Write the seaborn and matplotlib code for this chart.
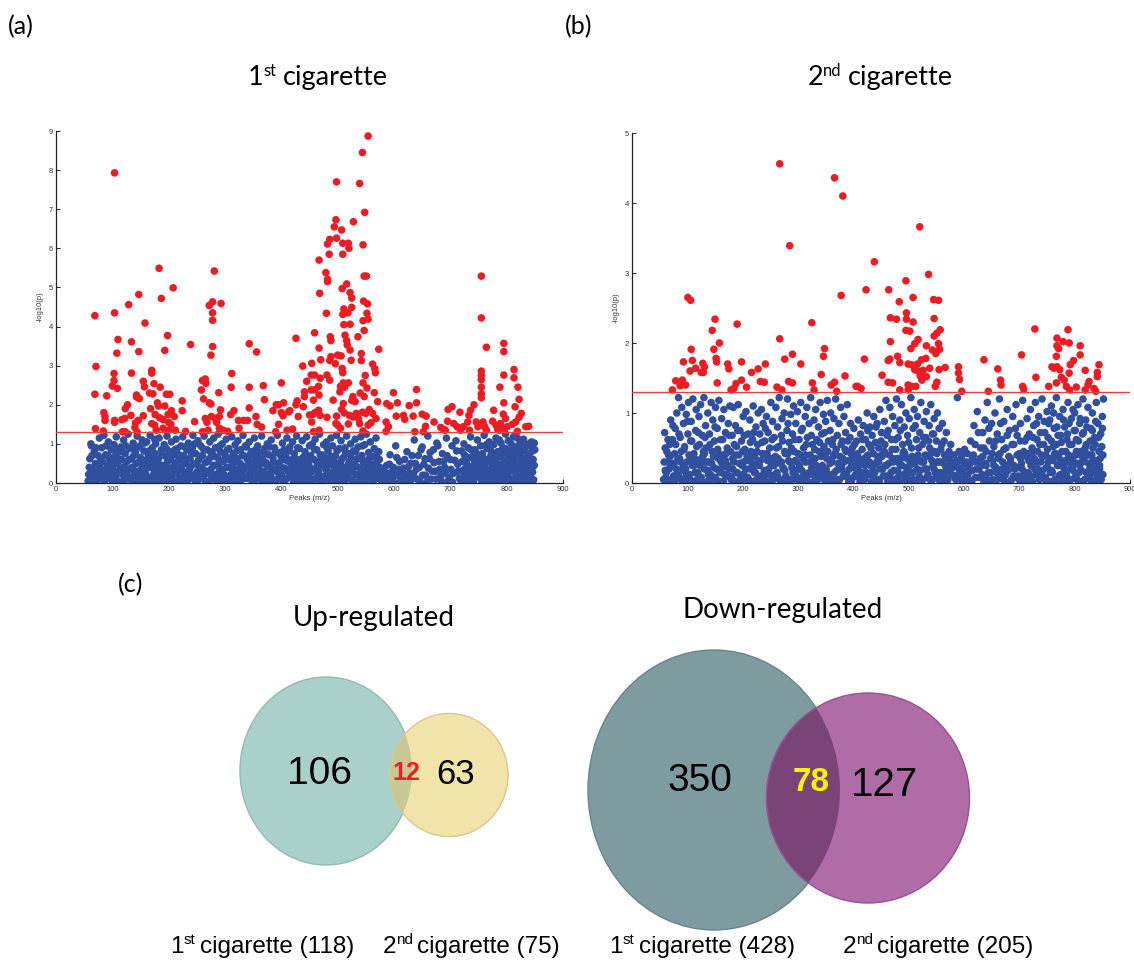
import matplotlib
matplotlib.use("Agg")
import matplotlib.pyplot as plt
from matplotlib.patches import Ellipse
from matplotlib.transforms import IdentityTransform
import seaborn as sns
import pandas as pd

# ---------------- data ----------------
THRESH = 1.3
xticks = [0, 100, 200, 300, 400, 500, 600, 700, 800, 900]
yticks_a = list(range(0, 10))
yticks_b = list(range(0, 6))

red_a = [(104,7.93),(69,4.28),(71,2.98),(69,2.27),(70,1.39),(104,4.35),(110,3.67),(108,3.32),(103,2.80),(103,2.62),
 (100,2.48),(109,2.42),(104,1.60),(104,1.55),(90,2.23),(85,1.80),(87,1.70),(87,1.60),(84,1.33),
 (129,4.56),(147,4.82),(187,4.72),(183,5.49),(208,4.99),(158,4.09),(134,3.61),(147,3.36),(198,3.77),(193,3.39),
 (239,3.54),(170,2.88),(170,2.81),(155,2.60),(157,2.46),(134,2.81),(143,2.25),(143,2.20),(148,2.16),(174,2.54),
 (185,2.45),(166,2.30),(172,2.28),(196,2.27),(202,2.27),(127,2.00),(123,1.90),(117,1.62),(122,1.65),(133,1.73),
 (141,1.53),(146,1.60),(140,1.42),(155,1.72),(168,1.90),(176,1.75),(184,1.67),(190,1.62),(199,1.75),(205,1.85),
 (210,1.70),(200,1.55),(204,1.50),(224,2.10),(224,1.85),(180,2.05),(182,1.97),(193,1.97),(118,1.31),(123,1.31),
 (144,1.31),(178,1.35),(190,1.40),(200,1.35),(212,1.35),(230,1.32),(246,1.57),(170,1.52),(175,1.48),
 (281,5.42),(272,4.54),(278,4.63),(278,4.35),(278,4.16),(293,4.59),(278,3.49),(275,3.27),(260,2.62),(265,2.66),
 (258,2.38),(266,2.55),(272,2.05),(275,2.02),(262,2.15),(289,2.31),(292,1.87),(265,1.65),(268,1.55),(276,1.70),
 (283,1.65),(290,1.70),(285,1.55),(260,1.31),(270,1.35),(290,1.40),(297,1.35),(305,1.32),
 (312,2.80),(311,2.45),(316,1.85),(310,1.75),(324,1.60),(333,1.60),(340,1.60),(325,1.40),(343,3.56),(356,3.35),
 (343,2.45),(343,1.92),(355,1.70),(368,2.49),(370,2.13),(357,1.50),(365,1.43),(400,2.56),(385,1.85),(395,2.00),
 (404,2.05),(400,1.80),(403,1.72),(395,1.50),(390,1.31),(410,1.35),(415,1.85),(426,3.70),(428,2.10),(430,1.70),
 (420,1.38),(438,2.99),(454,3.06),(453,2.76),(445,2.60),(453,2.38),(441,2.33),(441,2.21),(439,1.95),(460,1.80),
 (450,1.74),(426,2.00),(413,1.82),(391,2.00),
 (554,8.87),(544,8.45),(539,7.66),(498,7.70),(548,6.92),(528,6.68),(497,6.73),(494,6.55),(507,6.47),(486,6.23),
 (482,6.11),(498,6.26),(509,6.13),(519,6.13),(520,6.00),(509,5.85),(485,5.85),(545,6.09),(467,5.70),(479,5.38),
 (482,5.15),(482,5.21),(468,4.85),(547,5.29),(551,5.29),(508,4.97),(516,5.09),(522,4.87),(525,4.73),(511,4.45),
 (509,4.31),(511,4.05),(518,4.35),(525,4.49),(522,4.06),(546,4.65),(553,4.58),(552,4.34),(554,4.19),(545,4.15),
 (547,3.90),(480,4.34),(459,3.84),(536,3.74),(513,3.78),(487,3.74),(488,3.64),(467,3.45),(573,3.42),(516,3.64),
 (517,3.53),(522,3.40),(524,3.14),(500,3.27),(506,3.25),(488,3.23),(486,3.13),(542,3.31),(542,3.13),(470,3.15),
 (496,3.05),(562,3.04),(566,2.92),(567,2.82),(508,2.93),(509,2.82),(510,2.56),(519,2.56),(512,2.45),(505,2.47),
 (549,2.75),(545,2.56),(552,2.43),(540,2.30),(547,2.21),(459,2.76),(481,2.76),(469,2.68),(486,2.63),(466,2.47),
 (467,2.25),(459,2.38),(504,2.33),(527,2.21),(531,2.08),(525,2.11),(565,2.31),(571,2.08),(599,2.31),(606,2.05),
 (587,2.03),(593,1.97),(640,2.39),(640,2.05),(627,1.98),(492,2.12),(510,2.03),(507,1.88),(512,1.79),(466,1.86),
 (469,1.73),(457,1.76),(481,1.68),(498,1.71),(521,1.73),(527,1.69),(533,1.78),(537,1.65),(544,1.81),(550,1.78),
 (556,1.88),(562,1.78),(568,1.65),(559,1.54),(554,1.48),(539,1.52),(545,1.33),(519,1.51),(500,1.48),(505,1.40),
 (497,1.52),(604,1.71),(617,1.73),(619,1.63),(586,1.56),(590,1.44),(586,1.32),(634,1.71),(637,1.31),(650,1.76),
 (657,1.71),(656,1.45),(652,1.31),(671,1.56),(683,1.42),(688,1.37),(696,1.88),(703,1.95),(695,1.58),(691,1.35),
 (706,1.52),(712,1.44),(717,1.81),(718,1.35),(723,1.44),(733,1.73),(736,1.86),(731,1.56),(734,1.35),(742,2.00),
 (746,1.56),(749,1.44),(755,5.29),(755,4.22),(764,3.47),(755,2.86),(755,2.75),(755,2.64),(755,2.45),(755,2.28),
 (755,2.18),(758,1.56),(761,1.44),(764,1.35),(777,1.86),(775,1.58),(781,1.48),(784,1.38),(788,2.45),(795,3.57),
 (795,3.36),(795,2.76),(795,2.05),(794,1.76),(798,1.65),(789,1.52),(792,1.40),(795,1.33),(801,1.44),(786,1.35),
 (813,2.90),(813,2.69),(820,2.45),(822,2.14),(815,1.95),(826,1.78),(822,1.68),(816,1.56),(810,1.50),(834,1.44),
 (839,1.45),(819,1.32),(457,2.12),(454,1.56),(467,1.35),(457,1.31)]

blue_a = [(57,0.05),(58,0.22),(60,0.62),(62,1.0),(63,0.95),(65,0.35),(66,0.12),(68,0.8),(70,0.5),(72,0.02),(73,0.28),
 (75,0.7),(77,1.15),(78,0.4),(79,0.15),(81,0.9),(82,0.55),(84,0.08),(85,1.22),(86,0.3),(88,0.72),(90,0.18),(91,0.45),
 (93,1.05),(95,0.6),(96,0.25),(98,0.85),(100,0.05),(101,0.38),(103,0.98),(104,0.68),(106,0.15),(107,1.18),(109,0.5),
 (110,0.8),(112,0.3),(113,0.02),(115,0.92),(116,0.6),(118,0.22),(120,1.1),(121,0.42),(123,0.75),(125,0.1),(126,0.55),
 (128,1.25),(129,0.33),(131,0.88),(132,0.12),(134,0.62),(136,0.4),(137,1.02),(139,0.2),(141,0.78),(142,0.5),(144,1.2),
 (145,0.05),(147,0.3),(149,0.95),(150,0.65),(152,0.18),(153,1.1),(154,0.45),(156,0.82),(158,0.28),(159,0.58),(161,1.05),
 (163,0.1),(164,0.7),(166,0.4),(167,1.22),(169,0.15),(171,0.9),(172,0.52),(174,0.25),(176,0.75),(177,1.0),(179,0.05),
 (180,0.35),(182,0.62),(183,1.15),(185,0.2),(187,0.85),(188,0.45),(190,0.08),(192,0.98),(193,0.3),(195,0.68),(197,1.2),
 (198,0.55),(200,0.15),(202,0.8),(203,0.38),(205,1.05),(207,0.25),(208,0.72),(210,0.02),(212,0.5),(213,1.12),(215,0.88),
 (217,0.3),(218,0.6),(220,0.12),(222,0.95),(223,0.42),(225,1.18),(227,0.7),(228,0.2),(230,0.5),(232,0.85),(233,0.08),
 (235,1.02),(237,0.35),(238,0.62),(240,0.18),(242,0.9),(243,1.22),(245,0.48),(247,0.05),(248,0.75),(250,0.28),(252,1.08),
 (253,0.58),(255,0.15),(257,0.95),(258,0.4),(260,0.7),(262,0.1),(263,1.2),(265,0.52),(267,0.25),(268,0.85),(270,0.02),
 (272,0.62),(273,1.05),(275,0.35),(277,0.78),(278,0.18),(280,1.15),(282,0.45),(283,0.9),(285,0.08),(287,0.65),(288,1.25),
 (290,0.3),(292,0.8),(293,0.15),(295,1.0),(297,0.55),(298,0.22),(300,0.72),(302,1.12),(303,0.4),(305,0.05),(307,0.88),
 (308,0.6),(310,0.2),(312,1.18),(313,0.45),(315,0.75),(317,0.1),(318,0.98),(320,0.32),(322,0.62),(323,1.08),(325,0.02),
 (327,0.5),(328,0.85),(330,0.25),(332,1.22),(333,0.7),(335,0.12),(337,0.42),(338,0.92),(340,0.6),(342,0.2),(343,1.05),
 (345,0.35),(347,0.8),(348,0.05),(350,0.55),(352,1.15),(353,0.28),(355,0.68),(357,0.1),(358,0.95),(360,0.45),(362,0.78),
 (363,0.18),(365,1.2),(367,0.6),(368,0.3),(370,0.88),(372,0.02),(373,0.52),(375,1.0),(377,0.22),(378,0.72),(380,0.4),
 (382,1.1),(383,0.12),(385,0.65),(387,0.35),(388,0.9),(390,0.05),(392,0.5),(393,1.22),(395,0.25),(397,0.78),(398,0.15),
 (400,0.58),(402,1.02),(403,0.38),(405,0.85),(407,0.08),(408,0.68),(410,1.15),(412,0.3),(413,0.55),(415,0.92),(417,0.18),
 (418,0.45),(420,1.05),(422,0.02),(423,0.75),(425,0.35),(427,1.2),(428,0.6),(430,0.12),(432,0.88),(433,0.42),(435,0.22),
 (437,1.08),(438,0.65),(440,0.05),(442,0.8),(443,0.32),(445,1.18),(447,0.52),(448,0.15),(450,0.95),(452,0.7),(453,0.28),
 (455,1.0),(457,0.1),(458,0.6),(460,1.12),(462,0.38),(463,0.85),(465,0.2),(467,0.55),(468,1.25),(470,0.02),(472,0.72),
 (473,0.45),(475,0.98),(477,0.18),(478,0.65),(480,1.05),(482,0.3),(483,0.82),(485,0.08),(487,0.58),(488,1.15),(490,0.25),
 (491,0.95),(493,0.42),(495,0.12),(496,0.7),(498,1.22),(500,0.35),(501,0.05),(503,0.88),(505,0.5),(506,1.08),(508,0.2),
 (510,0.65),(511,0.02),(513,0.9),(515,0.4),(516,1.2),(518,0.15),(520,0.75),(521,0.55),(523,1.0),(525,0.28),(526,0.08),
 (528,0.82),(530,0.48),(531,1.12),(533,0.22),(535,0.62),(536,0.92),(538,0.05),(540,0.38),(541,1.18),(543,0.7),(545,0.15),
 (546,0.52),(548,0.98),(550,0.3),(551,1.25),(553,0.1),(555,0.78),(557,0.45),(558,1.05),(560,0.2),(562,0.68),(563,0.02),
 (565,0.88),(567,0.35),(568,1.15),(570,0.55),(571,0.12),(573,0.8),(575,0.4),(576,0.25),(578,0.05),(583,0.15),(587,0.45),
 (590,0.08),(593,0.72),(597,0.3),(600,0.02),(603,0.95),(607,0.2),(610,0.55),(613,0.1),(617,0.38),(620,0.05),(623,0.8),
 (627,0.25),(630,0.5),(633,0.12),(636,1.1),(640,0.35),(643,0.7),(646,0.05),(650,0.92),(653,0.48),(656,0.2),(660,1.2),
 (663,0.62),(666,0.1),(670,0.85),(673,0.3),(676,1.02),(680,0.55),(683,0.18),(686,0.75),(690,0.4),(693,1.15),(696,0.05),
 (700,0.6),(703,0.95),(706,0.25),(710,1.08),(713,0.48),(716,0.12),(720,0.82),(722,0.32),(724,1.0),(726,0.05),(728,0.58),
 (730,0.2),(732,0.9),(734,0.42),(736,1.18),(738,0.1),(740,0.68),(742,0.28),(744,0.85),(746,0.5),(748,1.1),(750,0.15),
 (751,0.62),(753,0.35),(754,0.95),(756,0.02),(757,0.75),(759,0.22),(760,1.22),(762,0.48),(763,0.12),(765,0.88),(766,0.6),
 (768,0.3),(769,1.05),(771,0.08),(772,0.7),(774,0.4),(775,0.18),(777,0.98),(778,0.55),(780,0.25),(781,1.15),(783,0.05),
 (784,0.8),(786,0.45),(787,0.15),(789,0.68),(790,1.02),(792,0.32),(793,0.9),(795,0.1),(796,0.58),(798,1.25),(799,0.38),
 (800,0.75),(802,0.2),(803,1.08),(805,0.52),(806,0.02),(808,0.85),(809,0.35),(811,0.65),(812,1.18),(814,0.12),(815,0.45),
 (817,0.92),(818,0.28),(820,0.72),(821,0.05),(823,1.0),(824,0.55),(826,0.22),(827,0.82),(829,0.4),(830,1.12),(832,0.1),
 (833,0.62),(835,0.3),(836,0.95),(838,0.02),(839,0.5),(841,0.75),(842,0.18),(844,1.05),(845,0.4),(847,0.6),(848,0.08),
 (850,0.85)]

blue_a_low = [(59,0.4),(61,0.12),(64,0.7),(67,0.3),(69,0.02),(71,0.9),(74,0.48),(76,0.2),(80,0.6),(83,0.32),(87,0.05),
 (89,0.95),(92,0.7),(94,0.38),(97,0.12),(99,0.55),(102,0.22),(105,0.85),(108,0.05),(111,0.62),(114,0.35),(117,0.8),
 (119,0.05),(122,0.28),(124,0.95),(127,0.18),(130,0.6),(133,0.38),(135,0.02),(138,0.7),(140,0.3),(143,0.88),(146,0.15),
 (148,0.55),(151,0.35),(155,0.05),(157,1.02),(160,0.2),(162,0.45),(165,0.82),(168,0.05),(170,0.6),(173,0.38),(175,1.12),
 (178,0.18),(181,0.5),(184,0.02),(186,0.32),(189,0.72),(191,0.12),(194,0.45),(196,0.88),(199,0.3),(201,0.02),(204,0.6),
 (206,0.15),(209,0.42),(211,0.85),(214,0.25),(216,0.05),(219,0.72),(221,0.35),(224,0.08),(226,0.52),(229,0.92),(231,0.28),
 (234,0.6),(236,0.1),(239,0.42),(241,0.75),(244,0.2),(246,1.0),(249,0.5),(251,0.05),(254,0.35),(256,0.68),(259,0.18),
 (261,0.88),(264,0.32),(266,0.05),(269,0.55),(271,0.25),(274,0.8),(276,0.1),(279,0.45),(281,0.68),(284,0.22),(286,0.02),
 (289,0.5),(291,0.95),(294,0.35),(296,0.08),(299,0.6),(301,0.18),(304,0.85),(306,0.4),(309,0.05),(311,0.65),(314,0.28),
 (316,0.02),(319,0.55),(321,0.82),(324,0.18),(326,0.4),(329,0.08),(331,0.7),(334,0.35),(336,0.95),(339,0.12),(341,0.48),
 (344,0.72),(346,0.2),(349,0.38),(351,0.02),(354,0.85),(356,0.45),(359,0.15),(361,0.62),(364,0.3),(366,0.05),(369,0.5),
 (371,0.75),(374,0.15),(376,0.42),(379,0.92),(381,0.25),(384,0.02),(386,0.55),(389,0.78),(391,0.3),(394,0.1),(396,0.45),
 (399,0.7),(401,0.2),(404,0.02),(406,0.38),(409,0.58),(411,0.12),(414,0.82),(416,0.3),(419,0.6),(421,0.22),(424,0.05),
 (426,0.48),(429,0.9),(431,0.3),(434,0.05),(436,0.58),(439,0.42),(441,0.15),(444,0.7),(446,0.25),(449,0.45),(451,0.02),
 (454,0.62),(456,0.35),(459,0.85),(461,0.1),(464,0.5),(466,0.3),(469,0.72),(471,0.15),(474,0.05),(476,0.55),(479,0.35),
 (481,0.9),(484,0.48),(486,0.2),(489,0.68),(492,0.02),(494,0.55),(497,0.25),(499,0.82),(502,0.4),(504,0.15),(507,0.6),
 (509,0.32),(512,0.05),(514,0.78),(517,0.25),(519,0.48),(522,0.1),(524,0.65),(527,0.38),(529,0.02),(532,0.8),(534,0.42),
 (537,0.2),(539,0.62),(542,0.3),(544,0.95),(547,0.05),(549,0.55),(552,0.38),(554,0.15),(556,0.62),(559,0.3),(561,0.05),
 (564,0.48),(566,0.18),(569,0.72),(572,0.3),(574,0.6),(577,0.15),(581,0.35),(585,0.02),(589,0.25),(592,0.48),(595,0.12),
 (599,0.4),(602,0.2),(605,0.65),(609,0.35),(612,0.05),(615,0.28),(619,0.6),(622,0.15),(626,0.42),(629,0.05),(632,0.7),
 (635,0.25),(638,0.5),(641,0.1),(645,0.4),(648,0.85),(651,0.2),(655,0.62),(658,0.02),(661,0.38),(664,0.78),(668,0.3),
 (671,0.52),(674,0.1),(678,0.95),(681,0.35),(684,0.05),(688,0.55),(691,0.25),(694,0.7),(698,0.15),(701,0.35),(704,0.02),
 (708,0.58),(711,0.82),(714,0.3),(718,0.08),(721,0.55),(723,0.15),(725,0.72),(727,0.38),(729,0.02),(731,0.45),(733,0.65),
 (735,0.25),(737,0.85),(739,0.4),(741,0.02),(743,0.55),(745,0.18),(747,0.75),(749,0.32),(752,0.5),(754,0.12),(756,0.42),
 (758,0.65),(761,0.05),(763,0.35),(764,0.98),(767,0.18),(770,0.55),(771,0.85),(773,0.25),(776,0.05),(778,0.75),(780,0.45),
 (782,0.62),(785,0.3),(787,1.1),(788,0.02),(791,0.48),(792,0.78),(794,0.25),(797,0.05),(798,0.88),(801,0.42),(803,0.15),
 (804,0.7),(807,0.32),(808,1.0),(810,0.08),(813,0.58),(814,0.82),(816,0.25),(819,0.05),(819,1.15),(822,0.4),(822,0.88),
 (825,0.12),(826,0.65),(828,0.3),(831,0.85),(831,0.02),(834,0.48),(834,1.0),(837,0.2),(837,0.72),(840,0.35),(840,0.95),
 (843,0.05),(843,0.6),(846,0.28),(846,0.82),(849,0.45),(849,1.02)]

red_b = [(267,4.56),(366,4.36),(381,4.10),(285,3.39),(378,2.68),(101,2.65),(106,2.61),(150,2.34),(145,2.18),(190,2.27),
 (325,2.29),(267,2.06),(158,2.00),(107,1.91),(148,1.91),(348,1.92),(346,1.81),(290,1.84),(93,1.73),(109,1.75),
 (128,1.71),(131,1.66),(152,1.78),(153,1.73),(173,1.70),(175,1.63),(198,1.73),(241,1.70),(276,1.77),(305,1.70),
 (105,1.60),(115,1.64),(125,1.58),(129,1.58),(216,1.58),(228,1.63),(342,1.55),(385,1.53),(79,1.46),(91,1.47),
 (97,1.40),(87,1.39),(154,1.43),(188,1.42),(184,1.35),(198,1.47),(207,1.37),(179,1.33),(232,1.45),(239,1.44),
 (262,1.37),(271,1.33),(283,1.45),(290,1.43),(326,1.43),(329,1.33),(360,1.40),(366,1.44),(73,1.33),(370,1.31),
 (408,1.38),
 (520,3.66),(438,3.16),(536,2.98),(495,2.89),(423,2.76),(464,2.76),(508,2.65),(483,2.59),(545,2.62),(554,2.61),
 (496,2.43),(496,2.34),(467,2.36),(478,2.34),(546,2.35),(508,2.30),(495,2.18),(502,2.17),(557,2.19),(551,2.14),
 (546,2.10),(467,2.02),(517,2.05),(511,1.99),(532,1.96),(554,1.99),(556,1.91),(504,1.92),(543,1.90),(549,1.85),
 (466,1.77),(463,1.75),(480,1.81),(484,1.72),(499,1.70),(516,1.70),(531,1.78),(523,1.76),(511,1.62),(517,1.60),
 (526,1.61),(555,1.62),(566,1.65),(538,1.64),(505,1.69),(590,1.66),(590,1.57),(592,1.48),(420,1.77),(452,1.54),
 (521,1.53),(524,1.47),(532,1.52),(463,1.44),(471,1.43),(551,1.44),(548,1.38),(499,1.40),(505,1.38),(513,1.38),
 (499,1.33),(484,1.33),(405,1.38),(414,1.35),(596,1.31),(636,1.76),(661,1.63),(666,1.47),(667,1.40),(644,1.31),
 (704,1.83),(706,1.38),(708,1.34),(728,2.20),(730,1.51),(753,1.38),(759,1.66),(763,1.64),(768,2.07),(768,1.96),
 (771,1.92),(767,1.81),(768,1.66),(773,1.62),(767,1.43),(779,2.02),(788,2.19),(790,2.00),(776,1.51),(781,1.47),
 (785,1.38),(792,1.69),(790,1.57),(798,1.75),(810,1.96),(810,1.83),(791,1.33),(803,1.37),(819,1.61),(824,1.40),
 (826,1.45),(819,1.33),(844,1.69),(841,1.58),(841,1.52),(838,1.31),(835,1.35)]

blue_b = [(57,0.05),(59,0.72),(60,0.5),(62,0.15),(64,0.3),(66,0.02),(68,0.55),(70,0.9),(71,0.25),(73,0.62),(75,0.1),
 (77,0.42),(78,0.78),(80,0.2),(81,1.0),(83,0.35),(84,1.22),(86,0.08),(87,0.65),(89,0.45),(90,1.08),(92,0.18),(93,0.85),
 (95,0.52),(96,0.05),(98,0.98),(99,0.3),(101,0.7),(102,1.15),(104,0.12),(106,0.6),(107,0.88),(109,0.25),(110,1.2),
 (112,0.42),(113,0.02),(115,0.75),(116,1.05),(118,0.33),(119,0.15),(121,0.95),(122,0.55),(124,1.12),(125,0.08),(127,0.68),
 (128,0.38),(130,1.22),(131,0.2),(133,0.82),(134,0.5),(136,0.02),(137,1.0),(139,0.3),(140,0.7),(142,0.12),(143,1.15),
 (145,0.45),(146,0.9),(148,0.22),(149,0.6),(151,1.08),(152,0.05),(154,0.78),(156,0.35),(157,1.18),(159,0.15),(160,0.62),
 (162,0.92),(163,0.4),(165,0.02),(166,1.05),(168,0.28),(169,0.72),(171,0.1),(172,0.5),(174,0.85),(175,0.2),(177,1.1),
 (178,0.45),(180,0.08),(181,0.68),(183,1.08),(184,0.3),(186,0.02),(187,0.82),(189,0.52),(190,0.15),(192,1.12),(193,0.4),
 (195,0.75),(196,0.05),(198,0.6),(199,0.25),(201,0.95),(202,0.12),(204,0.48),(206,1.02),(207,0.32),(209,0.08),(210,0.7),
 (212,0.2),(213,0.9),(215,0.45),(216,0.02),(218,0.62),(219,1.1),(221,0.15),(222,0.38),(224,0.8),(225,0.05),(227,0.55),
 (228,1.0),(230,0.25),(231,0.7),(233,0.1),(234,1.05),(236,0.42),(237,0.85),(239,0.18),(240,0.6),(242,0.02),(243,0.95),
 (245,0.32),(246,0.72),(248,0.12),(249,0.5),(251,1.15),(252,0.25),(254,0.88),(256,0.05),(257,0.65),(259,0.38),(260,1.08),
 (262,0.15),(263,0.8),(265,0.52),(266,1.22),(268,0.28),(269,0.02),(271,0.92),(272,0.6),(274,0.2),(275,1.0),(277,0.42),
 (278,0.1),(280,0.75),(281,1.2),(283,0.32),(284,0.58),(286,0.05),(287,0.98),(289,0.22),(290,0.7),(292,1.1),(293,0.45),
 (295,0.12),(296,0.85),(298,0.3),(299,1.02),(301,0.02),(302,0.62),(304,0.4),(305,1.15),(307,0.18),(308,0.78),(310,0.5),
 (311,0.05),(313,0.95),(314,0.3),(316,1.08),(317,0.65),(319,0.12),(320,0.85),(322,0.4),(323,1.22),(325,0.22),(326,0.55),
 (328,0.02),(329,0.9),(331,0.35),(332,1.05),(334,0.62),(335,0.15),(337,0.8),(338,0.45),(340,1.15),(341,0.08),(343,0.7),
 (344,0.25),(346,0.98),(347,0.52),(349,0.02),(350,0.88),(352,0.35),(353,1.18),(355,0.6),(356,0.12),(358,0.75),(359,1.0),
 (361,0.3),(362,0.55),(364,0.05),(365,0.92),(367,0.42),(368,1.2),(370,0.18),(371,0.68),(373,0.02),(374,0.85),(376,0.38),
 (377,1.08),(379,0.22),(380,0.6),(382,0.1),(383,0.95),(385,0.48),(386,0.72),(388,0.15),(389,1.12),(391,0.32),(392,0.02),
 (394,0.65),(395,0.85),(397,0.25),(398,0.5),(400,0.08),(401,0.78),(403,0.4),(404,0.12),(406,0.6),(407,0.2),(409,0.9),
 (410,0.35),(412,0.02),(413,0.7),(415,0.15),(416,0.48),(418,0.82),(419,0.28),(421,0.05),(422,0.62),(424,0.38),(425,1.0),
 (427,0.12),(428,0.55),(430,0.8),(431,0.25),(433,0.02),(434,0.68),(436,0.42),(437,0.95),(439,0.15),(440,0.58),(442,0.3),
 (443,0.85),(445,0.05),(446,0.5),(448,1.05),(449,0.2),(451,0.72),(452,0.38),(454,0.1),(456,0.88),(457,0.55),(459,1.18),
 (460,0.25),(462,0.02),(463,0.75),(465,0.4),(466,1.08),(468,0.15),(469,0.62),(471,0.95),(472,0.3),(474,0.05),(475,0.82),
 (477,0.48),(478,1.2),(480,0.18),(481,0.65),(483,0.02),(484,0.9),(486,0.35),(487,1.12),(489,0.55),(490,0.12),(492,0.8),
 (493,0.42),(495,1.0),(496,0.22),(498,0.68),(499,0.05),(501,0.92),(502,0.32),(504,1.22),(505,0.5),(507,0.15),(508,0.78),
 (510,1.05),(511,0.28),(513,0.02),(514,0.62),(516,0.95),(517,0.4),(519,0.1),(520,0.72),(522,1.15),(523,0.3),(525,0.55),
 (526,0.05),(528,0.88),(529,0.2),(531,0.65),(532,1.02),(534,0.38),(535,0.12),(537,0.82),(538,0.5),(540,1.12),(541,0.02),
 (543,0.7),(544,0.25),(546,0.92),(547,0.45),(549,0.08),(550,0.6),(552,1.0),(553,0.3),(555,0.78),(556,0.15),(558,0.48),
 (559,0.02),(561,0.85),(562,0.3),(564,0.6),(565,0.1),(567,0.38),(568,0.72),(570,0.2),(571,0.05),(573,0.45),(575,0.25),
 (578,0.12),(582,0.4),(585,0.05),(588,1.22),(590,0.22),(592,0.15),(595,0.35),(598,0.02),(600,0.28),(603,0.1),(606,0.42),
 (609,0.05),(612,0.6),(615,0.18),(618,0.82),(621,0.3),(624,1.02),(627,0.08),(630,0.5),(632,0.25),(634,0.72),(636,0.02),
 (638,0.9),(640,0.45),(642,1.15),(644,0.15),(646,0.6),(648,0.35),(650,0.85),(652,0.05),(654,0.52),(656,1.0),(658,0.22),
 (660,0.7),(662,0.4),(664,1.2),(666,0.1),(668,0.62),(670,0.3),(672,0.88),(674,0.02),(676,0.5),(678,1.05),(680,0.18),
 (682,0.75),(684,0.35),(686,0.05),(688,0.95),(690,0.55),(692,0.2),(694,1.12),(696,0.68),(698,0.1),(700,0.42),(702,0.85),
 (704,0.28),(706,1.18),(708,0.02),(710,0.6),(712,0.38),(714,0.92),(716,0.15),(718,0.7),(720,1.05),(721,0.25),(723,0.5),
 (724,0.02),(726,0.82),(727,0.35),(729,1.15),(730,0.12),(732,0.62),(733,0.45),(735,0.95),(736,0.05),(738,0.72),(739,0.3),
 (741,1.2),(742,0.18),(744,0.55),(745,0.88),(747,0.08),(748,0.4),(750,1.02),(751,0.22),(752,0.65),(754,0.02),(755,0.9),
 (757,0.35),(758,1.1),(760,0.15),(761,0.52),(763,0.78),(764,0.05),(766,0.42),(767,1.22),(769,0.25),(770,0.68),(772,0.1),
 (773,0.95),(775,0.32),(776,0.58),(778,0.02),(779,1.05),(781,0.2),(782,0.8),(784,0.45),(785,0.12),(787,0.7),(788,1.15),
 (790,0.3),(791,0.55),(793,0.05),(794,0.92),(796,0.38),(797,0.18),(799,0.75),(800,1.0),(802,0.1),(803,0.62),(805,0.28),
 (806,1.12),(808,0.02),(809,0.85),(811,0.45),(812,0.18),(814,0.7),(815,1.2),(817,0.35),(818,0.05),(820,0.9),(821,0.55),
 (823,0.15),(824,1.08),(826,0.4),(827,0.08),(829,0.78),(830,0.25),(832,1.0),(833,0.5),(835,0.02),(836,0.65),(838,0.32),
 (839,1.15),(841,0.12),(842,0.85),(844,0.45),(845,0.2),(847,0.7),(848,0.05),(850,0.95),(852,1.2)]

blue_b_low = [(58,0.3),(61,0.08),(63,0.45),(65,0.62),(67,0.2),(69,0.38),(72,0.05),(74,0.82),(76,0.28),(79,0.55),(82,0.12),
 (85,0.7),(88,0.3),(91,0.02),(94,0.48),(97,0.2),(100,0.88),(103,0.4),(105,0.05),(108,0.6),(111,0.32),(114,0.15),
 (117,0.52),(120,0.72),(123,0.25),(126,0.02),(129,0.45),(132,0.65),(135,0.3),(138,0.12),(141,0.55),(144,0.05),(147,0.38),
 (150,0.8),(153,0.2),(155,0.48),(158,0.02),(161,0.3),(164,0.62),(167,0.12),(170,0.42),(173,0.25),(176,0.68),(179,0.05),
 (182,0.35),(185,0.55),(188,0.15),(191,0.75),(194,0.28),(197,0.02),(200,0.45),(203,0.68),(205,0.2),(208,0.38),(211,0.05),
 (214,0.58),(217,0.28),(220,0.72),(223,0.15),(226,0.45),(229,0.02),(232,0.32),(235,0.58),(238,0.1),(241,0.78),(244,0.42),
 (247,0.2),(250,0.02),(253,0.62),(255,0.3),(258,0.12),(261,0.5),(264,0.35),(267,0.05),(270,0.68),(273,0.22),(276,0.45),
 (279,0.02),(282,0.85),(285,0.3),(288,0.5),(291,0.15),(294,0.62),(297,0.05),(300,0.42),(303,0.25),(306,0.75),(309,0.35),
 (312,0.12),(315,0.55),(318,0.02),(321,0.3),(324,0.68),(327,0.12),(330,0.48),(333,0.25),(336,0.05),(339,0.58),(342,0.38),
 (345,0.15),(348,0.72),(351,0.2),(354,0.45),(357,0.02),(360,0.32),(363,0.62),(366,0.15),(369,0.48),(372,0.28),(375,0.05),
 (378,0.55),(381,0.35),(384,0.15),(387,0.45),(390,0.6),(393,0.2),(396,0.02),(399,0.35),(402,0.55),(405,0.1),(408,0.42),
 (411,0.25),(414,0.02),(417,0.62),(420,0.35),(423,0.15),(426,0.75),(429,0.3),(432,0.5),(435,0.1),(438,0.25),(441,0.8),
 (444,0.38),(447,0.02),(450,0.6),(453,0.2),(456,0.45),(459,0.1),(461,0.68),(464,0.28),(467,0.02),(470,0.48),(473,0.18),
 (476,0.62),(479,0.35),(482,0.1),(485,0.75),(488,0.25),(491,0.45),(494,0.05),(497,0.35),(500,0.58),(503,0.15),(506,0.38),
 (509,0.02),(512,0.82),(515,0.2),(518,0.5),(521,0.32),(524,0.05),(527,0.65),(530,0.4),(533,0.2),(536,0.6),(539,0.05),
 (542,0.32),(545,0.7),(548,0.15),(551,0.42),(554,0.05),(557,0.3),(560,0.55),(563,0.15),(566,0.25),(569,0.02),(572,0.35),
 (576,0.55),(580,0.22),(584,0.3),(587,0.1),(591,0.45),(594,0.05),(597,0.18),(601,0.48),(604,0.3),(607,0.12),(611,0.28),
 (614,0.02),(617,0.4),(620,0.55),(623,0.2),(626,0.72),(629,0.35),(633,0.12),(636,0.5),(639,0.28),(642,0.05),(645,0.78),
 (648,0.15),(651,0.42),(654,0.25),(657,0.6),(660,0.05),(663,0.35),(666,0.85),(669,0.2),(672,0.48),(675,0.12),(678,0.68),
 (681,0.38),(684,0.02),(687,0.55),(690,0.25),(693,0.78),(696,0.4),(699,0.05),(702,0.6),(705,0.2),(708,0.45),(711,0.08),
 (714,0.65),(717,0.32),(720,0.02),(722,0.42),(725,0.65),(728,0.2),(731,0.85),(734,0.3),(737,0.55),(740,0.12),(743,0.38),
 (746,0.72),(749,0.22),(751,0.48),(753,0.85),(756,0.15),(758,0.6),(761,0.32),(762,1.0),(765,0.02),(767,0.55),(768,0.8),
 (771,0.38),(774,0.12),(775,0.68),(777,0.45),(780,0.9),(782,0.28),(785,0.05),(786,0.62),(789,0.4),(790,0.85),(792,0.2),
 (795,0.55),(797,1.05),(798,0.3),(801,0.75),(803,0.45),(804,0.05),(807,0.6),(809,0.25),(810,0.92),(813,0.38),(815,0.02),
 (816,0.72),(819,0.5),(821,0.15),(822,0.8),(825,0.28),(828,0.6),(828,0.05),(831,0.4),(832,0.75),(834,0.15),(837,0.55),
 (838,0.88),(840,0.22),(843,0.65),(844,0.02),(846,0.35),(849,0.52),(850,0.78),(851,0.12)]

blue_b_base = [(60,0.18),(66,0.4),(73,0.28),(79,0.05),(86,0.35),(92,0.22),(99,0.12),(106,0.38),(112,0.25),(118,0.05),
 (125,0.3),(131,0.42),(137,0.18),(144,0.28),(150,0.08),(157,0.4),(163,0.22),(169,0.32),(176,0.1),(182,0.2),(188,0.4),
 (195,0.12),(201,0.3),(207,0.05),(213,0.35),(219,0.2),(226,0.28),(232,0.05),(238,0.4),(245,0.15),(251,0.35),(257,0.25),
 (263,0.1),(270,0.3),(276,0.18),(282,0.42),(289,0.05),(295,0.32),(301,0.2),(307,0.08),(314,0.4),(320,0.15),(326,0.32),
 (333,0.05),(339,0.2),(345,0.42),(351,0.1),(358,0.28),(364,0.38),(370,0.05),(377,0.2),(383,0.3),(389,0.08),(396,0.42),
 (402,0.22),(408,0.3),(414,0.12),(421,0.25),(427,0.4),(433,0.15),(439,0.05),(446,0.3),(452,0.4),(458,0.25),(465,0.1),
 (471,0.35),(477,0.05),(483,0.28),(490,0.42),(496,0.15),(502,0.25),(508,0.05),(515,0.35),(521,0.18),(527,0.3),(533,0.08),
 (540,0.42),(546,0.2),(552,0.3),(559,0.1),(565,0.4),(571,0.18),(577,0.3),(583,0.1),(590,0.32),(596,0.4),(602,0.05),
 (608,0.22),(615,0.35),(621,0.08),(627,0.2),(634,0.38),(640,0.25),(646,0.02),(652,0.32),(659,0.15),(665,0.42),(671,0.05),
 (677,0.25),(684,0.3),(690,0.1),(696,0.22),(702,0.35),(709,0.15),(715,0.42),(721,0.1),(727,0.3),(733,0.2),(740,0.4),
 (746,0.05),(752,0.3),(758,0.18),(764,0.42),(771,0.25),(777,0.1),(783,0.32),(789,0.05),(796,0.22),(802,0.4),(808,0.15),
 (814,0.3),(821,0.42),(827,0.2),(833,0.32),(839,0.05),(845,0.25),(851,0.4)]

venn_titles = ["Up-regulated", "Down-regulated"]
up_counts = [106, 12, 63]
down_counts = [350, 78, 127]
up_totals = [118, 75]
down_totals = [428, 205]

# ---------------- style ----------------
sns.set_theme(style="white")
plt.rcParams["font.family"] = ["Liberation Sans", "DejaVu Sans"]
plt.rcParams["text.color"] = "black"
W, H = 1134, 963
RED = "#ec1c24"
BLUE = "#30509f"
LINE = "#e8403d"
TITLE_FONT = ["Lato", "DejaVu Sans"]
ARIAL = ["Liberation Sans", "DejaVu Sans"]

fig = plt.figure(figsize=(W / 100, H / 100), dpi=100)
fig.patch.set_facecolor("white")

# Venn layer in pixel coordinates
axv = fig.add_axes([0, 0, 1, 1])
axv.set_xlim(0, W)
axv.set_ylim(H, 0)
axv.axis("off")


def scatter_panel(rect, blue, red, ymax, yticks):
    ax = fig.add_axes(rect)
    df = pd.DataFrame(blue + red, columns=["mz", "nlp"])
    df["grp"] = ["ns"] * len(blue) + ["sig"] * len(red)
    sns.scatterplot(data=df, x="mz", y="nlp", hue="grp",
                    palette={"ns": BLUE, "sig": RED}, s=30, linewidth=0,
                    legend=False, ax=ax, zorder=2)
    ax.axhline(THRESH, color=LINE, lw=1.0, zorder=3)
    ax.set_xlim(0, 900)
    ax.set_ylim(0, ymax)
    ax.set_xticks(xticks)
    ax.set_yticks(yticks)
    ax.tick_params(direction="in", length=3, width=0.8, labelsize=5.5,
                   colors="#333333", pad=2, left=True, bottom=True)
    for s in ["top", "right"]:
        ax.spines[s].set_visible(False)
    for s in ["left", "bottom"]:
        ax.spines[s].set_color("#222222")
        ax.spines[s].set_linewidth(0.9)
    ax.set_xlabel("Peaks (m/z)", fontsize=5.5, labelpad=1.5, color="#333333")
    ax.set_ylabel("-log10(p)", fontsize=5.5, labelpad=4, color="#333333")
    ax.set_facecolor("white")
    return ax


scatter_panel([56 / W, 1 - 483 / H, 507 / W, 352 / H], blue_a + blue_a_low, red_a, 9, yticks_a)
scatter_panel([632 / W, 1 - 483 / H, 498 / W, 350 / H], blue_b + blue_b_low + blue_b_base, red_b, 5, yticks_b)

renderer = fig.canvas.get_renderer()


def rich(xc, ybase, parts, family, color="black"):
    """parts: (text, fontsize, raise_px, gap_px)"""
    items = []
    x = 0
    for s, size, dy, gap in parts:
        t = fig.text(0, 0, s, fontsize=size, family=family, ha="left",
                     va="baseline", transform=IdentityTransform(), color=color)
        w = t.get_window_extent(renderer).width
        items.append((t, x + gap, dy))
        x += gap + w
    x0 = xc - x / 2
    for t, off, dy in items:
        t.set_position((x0 + off, H - ybase + dy))


# panel letters
for lbl, x, y in [("(a)", 8, 34), ("(b)", 565, 34), ("(c)", 118, 592)]:
    fig.text(x / W, 1 - y / H, lbl, fontsize=18, family=TITLE_FONT, ha="left", va="baseline", color="black")

# panel titles
rich(318, 85, [("1", 19.5, 0, 0), ("st", 12, 9, 0), ("cigarette", 19.5, 0, 6)], TITLE_FONT)
rich(880, 85, [("2", 19.5, 0, 0), ("nd", 12, 9, 0), ("cigarette", 19.5, 0, 6)], TITLE_FONT)

# Venn titles
fig.text(374 / W, 1 - 626 / H, venn_titles[0], fontsize=20, family=TITLE_FONT, ha="center", va="baseline", color="black")
fig.text(783 / W, 1 - 618 / H, venn_titles[1], fontsize=20, family=TITLE_FONT, ha="center", va="baseline", color="black")


def venn(c1, c2, col1, col2, colov, edge1, edge2):
    e1 = Ellipse(c1[:2], c1[2], c1[3], facecolor=col1, edgecolor=edge1, lw=1.0, zorder=1)
    axv.add_patch(e1)
    e2 = Ellipse(c2[:2], c2[2], c2[3], facecolor=col2, edgecolor=edge2, lw=1.0, zorder=2)
    axv.add_patch(e2)
    ov = Ellipse(c2[:2], c2[2], c2[3], facecolor=colov, edgecolor=edge2, lw=1.0, zorder=3)
    axv.add_patch(ov)
    ov.set_clip_path(e1)


venn((326, 771, 172, 188), (449, 775, 118, 123), "#a9d0cb", "#f1e4ab", "#c9c793", "#93b9b3", "#d6c88e")
venn((714, 790, 252, 280), (868, 798, 203, 210), "#7e9b9f", "#b06ca6", "#7a4479", "#6a8589", "#965490")

# Venn numbers
axv.text(320, 784, str(up_counts[0]), fontsize=28, family=ARIAL, color="black", ha="center", va="baseline", zorder=5)
axv.text(406, 780, str(up_counts[1]), fontsize=18, family=ARIAL, fontweight="bold", color="#ee1c24",
         ha="center", va="baseline", zorder=5)
axv.text(456, 784, str(up_counts[2]), fontsize=25, family=ARIAL, color="black", ha="center", va="baseline", zorder=5)
axv.text(700, 791, str(down_counts[0]), fontsize=28, family=ARIAL, color="black", ha="center", va="baseline", zorder=5)
axv.text(811, 791, str(down_counts[1]), fontsize=24, family=ARIAL, fontweight="bold", color="#fff200",
         ha="center", va="baseline", zorder=5)
axv.text(885, 796, str(down_counts[2]), fontsize=29, family=ARIAL, color="black", ha="center", va="baseline", zorder=5)

# Venn set labels
for xc, ord_num, ord_suf, n in [(262, "1", "st", up_totals[0]), (471, "2", "nd", up_totals[1]),
                                (702, "1", "st", down_totals[0]), (938, "2", "nd", down_totals[1])]:
    rich(xc, 953, [(ord_num, 17.5, 0, 0), (ord_suf, 11, 9, 0), (f"cigarette ({n})", 17.5, 0, 4)], ARIAL)

fig.savefig("out.png", dpi=100, facecolor="white")
